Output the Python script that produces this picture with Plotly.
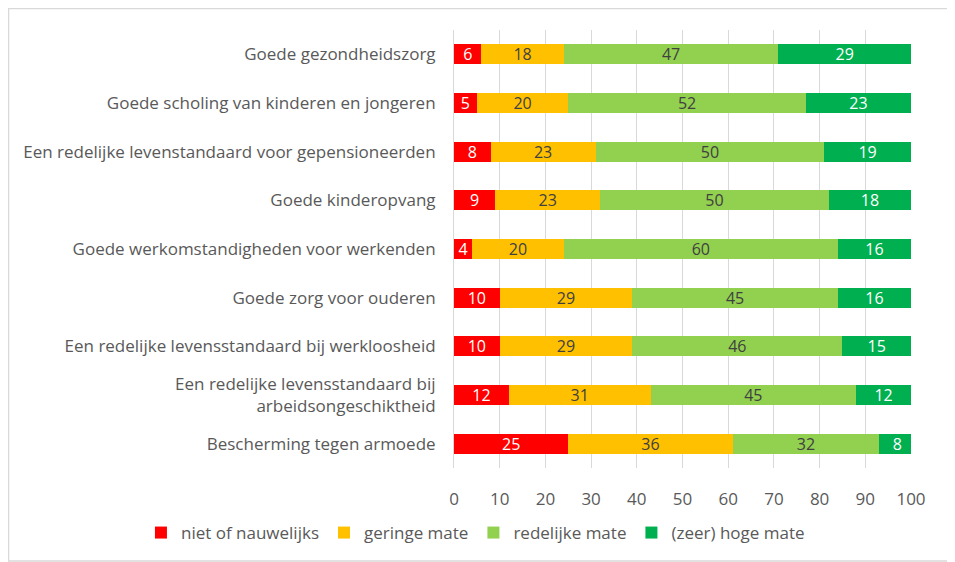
import plotly.graph_objects as go

categories = [
    "Goede gezondheidszorg",
    "Goede scholing van kinderen en jongeren",
    "Een redelijke levenstandaard voor gepensioneerden",
    "Goede kinderopvang",
    "Goede werkomstandigheden voor werkenden",
    "Goede zorg voor ouderen",
    "Een redelijke levensstandaard bij werkloosheid",
    "Een redelijke levensstandaard bij<br>arbeidsongeschiktheid",
    "Bescherming tegen armoede",
]
series_names = ["niet of nauwelijks", "geringe mate", "redelijke mate", "(zeer) hoge mate"]
niet = [6, 5, 8, 9, 4, 10, 10, 12, 25]
gering = [18, 20, 23, 23, 20, 29, 29, 31, 36]
redelijk = [47, 52, 50, 50, 60, 45, 46, 45, 32]
hoog = [29, 23, 19, 18, 16, 16, 15, 12, 8]
x_ticks = [0, 10, 20, 30, 40, 50, 60, 70, 80, 90, 100]

colors = ["#FF0000", "#FFC000", "#92D050", "#00B050"]
text_colors = ["#FFFFFF", "#404040", "#404040", "#FFFFFF"]

FONT = "Open Sans"
GRAY = "#595959"

fig = go.Figure()
for name, vals, c, tc in zip(series_names, [niet, gering, redelijk, hoog], colors, text_colors):
    fig.add_trace(go.Bar(
        y=categories, x=vals, name=name, orientation="h",
        marker=dict(color=c, line=dict(width=0)),
        text=[str(v) for v in vals], textposition="inside",
        insidetextanchor="middle", textangle=0,
        textfont=dict(family=FONT, size=16, color=tc),
        hoverinfo="skip",
    ))

fig.update_layout(
    barmode="stack",
    bargap=0.59,
    width=947, height=554,
    margin=dict(l=446, r=44, t=22, b=94, autoexpand=False),
    paper_bgcolor="white", plot_bgcolor="white",
    font=dict(family=FONT, size=16, color=GRAY),
    uniformtext=dict(minsize=16, mode="show"),
    showlegend=True,
    legend=dict(orientation="h", xref="paper", yref="paper",
                x=-0.685, xanchor="left", y=-0.1484, yanchor="middle",
                font=dict(family=FONT, size=17, color=GRAY), traceorder="normal",
                itemclick=False),
    xaxis=dict(range=[0, 100], tickvals=x_ticks, showgrid=True, gridcolor="#D9D9D9",
               gridwidth=1, zeroline=False, showline=False, ticks="",
               ticklabelstandoff=19, tickfont=dict(family=FONT, size=17, color=GRAY),
               fixedrange=True),
    yaxis=dict(autorange="reversed", showline=True, linecolor="#D9D9D9", linewidth=1,
               ticks="", ticklabelstandoff=14, tickfont=dict(family=FONT, size=17, color=GRAY),
               fixedrange=True),
    shapes=[dict(type="rect", xref="paper", yref="paper",
                 x0=-0.9748, x1=1.0832, y0=-0.2123, y1=1.0491,
                 line=dict(color="#D9D9D9", width=1.5), fillcolor="rgba(0,0,0,0)", layer="below")],
)

fig.write_html("out.html")
